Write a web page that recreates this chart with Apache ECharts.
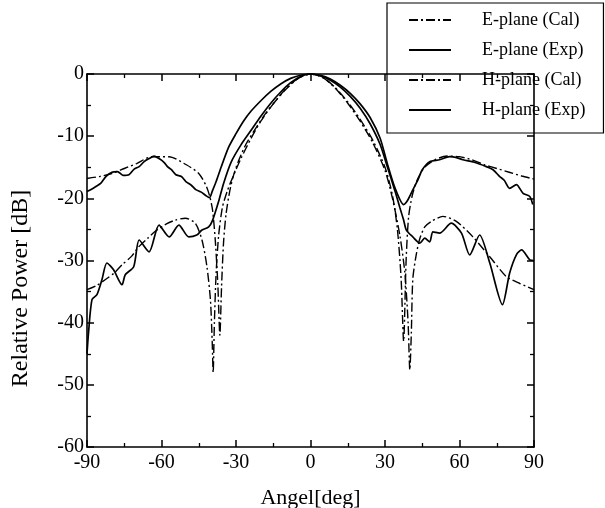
<!DOCTYPE html>
<html>
<head>
<meta charset="utf-8">
<script src="https://cdn.jsdelivr.net/npm/echarts@6/dist/echarts.min.js"></script>
<style>html,body{margin:0;padding:0;background:#fff}#c{width:605px;height:508px}</style>
</head>
<body>
<div id="c"></div>
<script>
// ---- Data (angle in deg, relative power in dB) ----
var seriesNames = ['E-plane (Cal)', 'E-plane (Exp)', 'H-plane (Cal)', 'H-plane (Exp)'];
var xTicks = [-90, -60, -30, 0, 30, 60, 90];
var yTicks = [0, -10, -20, -30, -40, -50, -60];

var eCalAngle = [-90,-85,-80,-75,-70,-64,-57,-50,-45,-42,-40.5,-39.4,-38.3,-37.3,-36.5,-35.8,-35,-34,-32.5,-31,-29,-26,-22,-18,-14,-10,-6,-3,0,3,6,10,15,20,25,30,33,35,36.5,37.5,38.5,39.5,41,43,46,50,55,60,65,70,75,80,85,90];
var eCalDb = [-16.8,-16.5,-16.0,-15.2,-14.4,-13.3,-13.3,-14.6,-16.0,-18.0,-19.8,-22.0,-27,-34,-42,-34,-27,-22.5,-18.8,-16.3,-14,-11.3,-8.7,-6.3,-4.3,-2.5,-1.0,-0.3,0,-0.2,-0.8,-2.2,-4.5,-7.3,-10.6,-15,-19.5,-25,-33,-43,-30,-23,-19.5,-17,-15,-13.8,-13.2,-13.3,-13.8,-14.6,-15.2,-15.8,-16.4,-16.9];

var eExpAngle = [-90,-88,-86.4,-84.5,-82.4,-80,-77.7,-75.5,-73.1,-71,-69,-67,-65,-63,-61,-59,-57.6,-56,-54.2,-52,-50.2,-48,-46.2,-44,-42,-40.7,-39.5,-38,-36,-33,-30,-27,-24,-20,-16,-12,-8,-4,0,4,8,12,16,20,24,28,31,34,37.5,39,41,43.3,45,48,52,56,58.5,61.4,66,70.8,73.5,76.2,78,80.2,82.9,85.6,88.3,89.5];
var eExpDb = [-18.9,-18.5,-18.1,-17.6,-16.5,-15.8,-15.7,-16.3,-16.2,-15.3,-14.9,-14.1,-13.6,-13.2,-13.6,-14.2,-14.9,-15.4,-16.2,-16.5,-17.3,-17.9,-18.6,-19.0,-19.6,-19.9,-18.8,-17.3,-15,-11.8,-9.6,-7.6,-6.0,-4.3,-2.8,-1.6,-0.7,-0.2,0,-0.2,-0.8,-1.8,-3.1,-4.8,-7.0,-10.3,-14.5,-18.3,-21,-20.4,-18.8,-17,-15.4,-14.1,-13.8,-13.3,-13.4,-13.8,-14.2,-14.9,-15.4,-16.5,-17.1,-18.4,-17.8,-19.2,-19.7,-21];

var hCalAngle = [-90,-86,-82.7,-79,-75.9,-72,-69.2,-65.5,-62.5,-58,-54.4,-50.4,-46.4,-43.7,-41.7,-40.3,-39.6,-39.2,-38.7,-38,-37,-35.5,-33.5,-31,-28,-24,-20,-15,-10,-5,0,5,10,15,20,25,30,33,36,38,39.3,40,40.6,41.2,42.6,44,46,48.7,53.3,58.7,65.4,72.2,78.9,84.3,90];
var hCalDb = [-34.7,-34.0,-33.1,-32,-30.7,-29.3,-27.8,-26.4,-25.3,-24.1,-23.5,-23.2,-24.0,-26.7,-31,-36.3,-42.8,-48,-40,-32,-26,-21.5,-18.8,-16.3,-13.6,-10.4,-7.6,-4.8,-2.4,-0.7,0,-0.6,-2.3,-4.7,-7.6,-11,-15.5,-20,-26,-32,-40,-47.6,-41.7,-33,-29,-26.5,-24.6,-23.7,-22.9,-23.7,-26.2,-29.4,-32.6,-33.7,-34.7];

var hExpAngle = [-90,-89.4,-88,-86,-84,-82,-79.3,-75.9,-74.6,-71.2,-69,-65,-61,-56.9,-53,-49,-45.8,-43.7,-41,-39.4,-37,-35,-32,-28,-24,-20,-16,-12,-8,-4,0,4,8,12,16,20,24,28,31,34,36,37.5,38.6,41.2,44,46,48,49.3,52,56.7,60.8,64.1,68.1,72.2,77.3,80.2,83,85,88.3,90];
var hExpDb = [-45,-41.7,-36.3,-35.5,-33.1,-30.4,-31.5,-33.9,-32.3,-31,-26.7,-28.6,-24.3,-26.2,-24.3,-26.2,-25.9,-25.1,-24.6,-23.5,-20.5,-17.6,-14.2,-11.4,-9.1,-6.8,-4.7,-2.9,-1.4,-0.4,0,-0.3,-1.0,-2.1,-3.6,-5.5,-8,-11.3,-15,-18.8,-21.5,-23.5,-25.1,-26.2,-27.2,-26.4,-27,-25.4,-25.6,-24,-25.6,-29.1,-25.9,-30.4,-37.1,-32,-29,-28.3,-29.9,-30];

function zip(a, b) { return a.map(function (v, i) { return [v, b[i]]; }); }

var FONT = 'Liberation Serif';
var dashDot = [9, 3, 2, 3];

var chart = echarts.init(document.getElementById('c'), null, {renderer: 'canvas'});

function xAxisCfg(pos, showLabel) {
  return {
    type: 'value', position: pos, min: -90, max: 90, interval: 30,
    axisLine: {show: true, onZero: false, lineStyle: {color: '#000', width: 1.6}},
    axisTick: {show: true, inside: true, length: 7, lineStyle: {color: '#000', width: 1.5}},
    minorTick: {show: true, splitNumber: 2, length: 4, lineStyle: {color: '#000', width: 1.3}},
    splitLine: {show: false},
    axisLabel: {show: showLabel, color: '#000', fontFamily: FONT, fontSize: 20, margin: 6,
      formatter: function (v) { return xTicks.indexOf(v) >= 0 ? String(v) : ''; }},
    name: showLabel ? 'Angel[deg]' : '', nameLocation: 'middle', nameGap: 40,
    nameTextStyle: {color: '#000', fontFamily: FONT, fontSize: 22}
  };
}
function yAxisCfg(pos, showLabel) {
  return {
    type: 'value', position: pos, min: -60, max: 0, interval: 10,
    axisLine: {show: true, onZero: false, lineStyle: {color: '#000', width: 1.6}},
    axisTick: {show: true, inside: true, length: 7, lineStyle: {color: '#000', width: 1.5}},
    minorTick: {show: true, splitNumber: 2, length: 4, lineStyle: {color: '#000', width: 1.3}},
    splitLine: {show: false},
    axisLabel: {show: showLabel, color: '#000', fontFamily: FONT, fontSize: 20, margin: 3,
      formatter: function (v) { return yTicks.indexOf(v) >= 0 ? String(v) : ''; }},
    name: showLabel ? 'Relative Power [dB]' : '', nameLocation: 'middle', nameGap: 54,
    nameTextStyle: {color: '#000', fontFamily: FONT, fontSize: 24, padding: [0, 56, 0, 0]}
  };
}

function lineSeries(name, a, b, dashed) {
  return {
    name: name, type: 'line', xAxisIndex: 0, yAxisIndex: 0,
    data: zip(a, b), showSymbol: false, symbol: 'none', smooth: 0.25,
    lineStyle: {color: '#000', width: dashed ? 1.4 : 1.7, type: dashed ? dashDot : 'solid'},
    itemStyle: {color: '#000'}, z: 3, animation: false
  };
}

chart.setOption({
  animation: false,
  backgroundColor: '#fff',
  grid: {left: 87, top: 74, right: 71, bottom: 61, containLabel: false, outerBoundsMode: 'none'},
  xAxis: [xAxisCfg('bottom', true), xAxisCfg('top', false)],
  yAxis: [yAxisCfg('left', true), yAxisCfg('right', false)],
  legend: {
    orient: 'vertical', left: 387, top: 3,
    data: seriesNames,
    itemWidth: 42, itemHeight: 14, itemGap: 12,
    padding: [8, 18, 14, 21],
    borderColor: '#000', borderWidth: 1.2, backgroundColor: 'rgba(255,255,255,0)',
    itemStyle: {opacity: 0, color: 'rgba(0,0,0,0)', borderWidth: 0},
    textStyle: {color: '#000', fontFamily: FONT, fontSize: 18, padding: [0, 0, 0, 26]},
    selectedMode: false
  },
  series: [
    lineSeries(seriesNames[0], eCalAngle, eCalDb, true),
    lineSeries(seriesNames[1], eExpAngle, eExpDb, false),
    lineSeries(seriesNames[2], hCalAngle, hCalDb, true),
    lineSeries(seriesNames[3], hExpAngle, hExpDb, false)
  ]
});
</script>
</body>
</html>
